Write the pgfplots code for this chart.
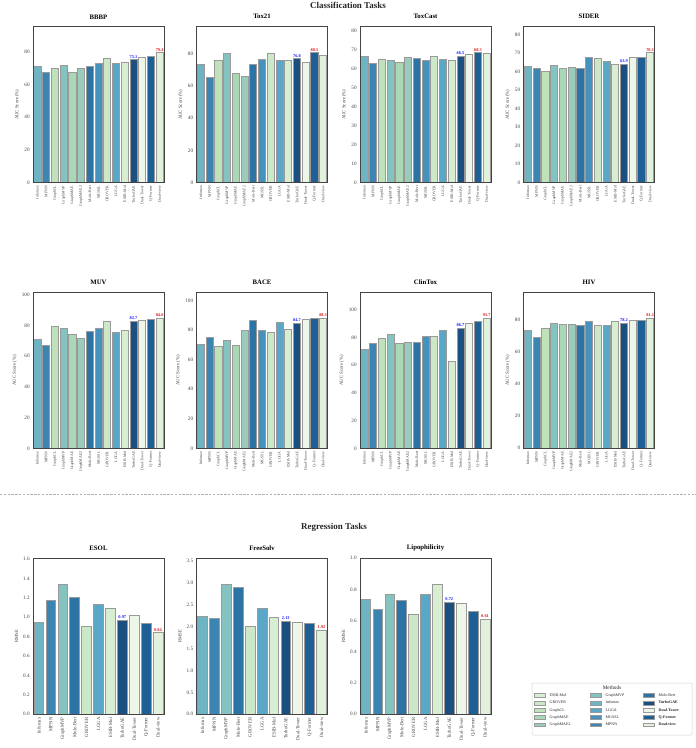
\documentclass[border=0pt]{standalone}
\usepackage{fontspec}
\setmainfont{Liberation Serif}
\usepackage{pgfplots}
\usepackage{pgfplotstable}
\pgfplotsset{compat=1.18}

% ---------- method colours ----------
\definecolor{cInfomax}{HTML}{6FB4C2}
\definecolor{cMPNN}{HTML}{3C84B2}
\definecolor{cGraphCL}{HTML}{BFE2BB}
\definecolor{cGraphMVP}{HTML}{84C3BF}
\definecolor{cGraphMAE}{HTML}{ACD7B4}
\definecolor{cGraphMAEtwo}{HTML}{9ACBBB}
\definecolor{cMoleBert}{HTML}{2C73A6}
\definecolor{cMGSSL}{HTML}{4592BF}
\definecolor{cGROVER}{HTML}{CDE8C8}
\definecolor{cLGGA}{HTML}{5BA7C8}
\definecolor{cESIBMol}{HTML}{D8EED3}
\definecolor{cTurboGAE}{HTML}{1B4F80}
\definecolor{cDualTower}{HTML}{EEF6EA}
\definecolor{cQFormer}{HTML}{1E6096}
\definecolor{cDualView}{HTML}{E1F1DC}
\definecolor{edgegray}{HTML}{9A9A9A}
\definecolor{spine}{HTML}{444444}
\definecolor{tickgray}{HTML}{444444}
\definecolor{labblue}{HTML}{1A1AFF}
\definecolor{labred}{HTML}{E01818}

% bar colours in the order of the classification categories
\colorlet{cls0}{cInfomax}\colorlet{cls1}{cMPNN}\colorlet{cls2}{cGraphCL}
\colorlet{cls3}{cGraphMVP}\colorlet{cls4}{cGraphMAE}\colorlet{cls5}{cGraphMAEtwo}
\colorlet{cls6}{cMoleBert}\colorlet{cls7}{cMGSSL}\colorlet{cls8}{cGROVER}
\colorlet{cls9}{cLGGA}\colorlet{cls10}{cESIBMol}\colorlet{cls11}{cTurboGAE}
\colorlet{cls12}{cDualTower}\colorlet{cls13}{cQFormer}\colorlet{cls14}{cDualView}
% bar colours in the order of the regression categories
\colorlet{reg0}{cInfomax}\colorlet{reg1}{cMPNN}\colorlet{reg2}{cGraphMVP}
\colorlet{reg3}{cMoleBert}\colorlet{reg4}{cGROVER}\colorlet{reg5}{cLGGA}
\colorlet{reg6}{cESIBMol}\colorlet{reg7}{cTurboGAE}\colorlet{reg8}{cDualTower}
\colorlet{reg9}{cQFormer}\colorlet{reg10}{cDualView}

% ---------- fonts ----------
\newcommand\supfont{\fontsize{9}{10}\selectfont\bfseries}
\newcommand\titlefont{\fontsize{6.8}{7.5}\selectfont\bfseries}
\newcommand\ticklabfont{\fontsize{5.2}{6}\selectfont}
\newcommand\clsxfont{\fontsize{3.9}{4.5}\selectfont}
\newcommand\regxfont{\fontsize{4.8}{5.5}\selectfont}
\newcommand\ylabfont{\fontsize{4.8}{5.5}\selectfont}
\newcommand\labfont{\fontsize{4.4}{5}\selectfont\bfseries}
\newcommand\legfont{\fontsize{4}{4.6}\selectfont}

% ---------- data (AUC in %, RMSE) ----------
\pgfplotstableread{
i v
0 71.2
1 67.7
2 69.6
3 71.6
4 67.3
5 69.6
6 70.8
7 72.8
8 75.7
9 72.8
10 73.4
11 75.1
12 76.3
13 77.1
14 79.4
}\BBBP
\pgfplotstableread{
i v
0 73.4
1 65.5
2 75.5
3 80.2
4 67.8
5 66.1
6 73.2
7 76.3
8 79.8
9 75.5
10 75.5
11 76.8
12 74.8
13 80.5
14 78.6
}\ToxTw
\pgfplotstableread{
i v
0 66.3
1 62.7
2 64.7
3 64.1
4 63.1
5 65.7
6 65.5
7 64.1
8 66.3
9 64.7
10 64.1
11 66.5
12 67.3
13 68.3
14 68.0
}\ToxCast
\pgfplotstableread{
i v
0 62.9
1 61.6
2 60.2
3 63.2
4 61.6
5 62.2
6 61.6
7 67.4
8 66.8
9 65.2
10 63.6
11 63.9
12 67.4
13 67.7
14 70.1
}\SIDER
\pgfplotstableread{
i v
0 71.2
1 66.7
2 79.1
3 77.8
4 74.3
5 71.5
6 76.3
7 78.2
8 82.4
9 75.2
10 76.5
11 82.7
12 83.4
13 83.6
14 84.6
}\MUV
\pgfplotstableread{
i v
0 70.4
1 75.2
2 69.0
3 73.3
4 69.5
5 80.2
6 86.6
7 79.7
8 78.6
9 85.6
10 80.6
11 84.7
12 87.2
13 87.8
14 88.1
}\BACE
\pgfplotstableread{
i v
0 71.5
1 75.4
2 79.0
3 82.1
4 75.4
5 76.3
6 76.3
7 80.7
8 80.7
9 84.8
10 62.6
11 86.7
12 90.1
13 91.3
14 93.7
}\ClinTox
\pgfplotstableread{
i v
0 73.3
1 69.1
2 75.0
3 78.1
4 77.1
5 77.1
6 76.7
7 79.4
8 76.5
9 76.7
10 79.0
11 78.2
12 80.0
13 79.6
14 81.1
}\HIV
\pgfplotstableread{
i v
0 0.95
1 1.17
2 1.34
3 1.21
4 0.91
5 1.13
6 1.09
7 0.97
8 1.02
9 0.94
10 0.84
}\ESOL
\pgfplotstableread{
i v
0 2.24
1 2.19
2 2.97
3 2.89
4 2.01
5 2.43
6 2.21
7 2.13
8 2.11
9 2.08
10 1.92
}\FreeSolv
\pgfplotstableread{
i v
0 0.74
1 0.67
2 0.77
3 0.73
4 0.64
5 0.77
6 0.83
7 0.72
8 0.71
9 0.66
10 0.61
}\Lipo

% ---------- styles ----------
\pgfplotsset{
  panel/.style={
    scale only axis, width=131bp, height=156bp, anchor=north west,
    ymin=0, axis on top,
    axis line style={draw=spine, line width=0.9bp},
    major tick length=0pt,
    tick label style={text=tickgray},
    /pgf/number format/assume math mode=true,
    yticklabel style={font=\ticklabfont, inner xsep=3.2bp},
    xticklabel style={rotate=90, anchor=east, inner xsep=3bp},
    title style={font=\titlefont, at={(0.5,1)}, anchor=south, yshift=0.5bp, inner sep=1bp},
    ylabel style={font=\ylabfont, text=tickgray, inner sep=1.6bp},
  },
  cls/.style={panel, xmin=-0.5, xmax=14.5, xtick={0,...,14},
    xticklabels={Infomax,MPNN,GraphCL,GraphMVP,GraphMAE,GraphMAE2,Mole-Bert,MGSSL,GROVER,LGGA,ESIB-Mol,TurboGAE,Dual-Tower,Q-Former,Dual-view},
    xticklabel style={font=\clsxfont},
    ylabel={AUC Score (\%)}},
  reg/.style={panel, xmin=-0.5, xmax=10.5, xtick={0,...,10},
    xticklabels={Infomax,MPNN,GraphMVP,Mole-Bert,GROVER,LGGA,ESIB-Mol,TurboGAE,Dual-Tower,Q-Former,Dual-view},
    xticklabel style={font=\regxfont},
    yticklabel style={/pgf/number format/.cd, fixed, fixed zerofill, precision=1},
    ylabel={RMSE}},
  methodbar/.style={ybar, bar width=0.82, bar shift=0pt, draw=edgegray, line width=0.7bp},
  methlegend/.style={hide axis, scale only axis, width=10bp, height=10bp,
    xmin=0, xmax=1, ymin=0, ymax=1, anchor=north west,
    legend style={at={(0,1)}, anchor=north west, draw=none, fill=none,
      inner sep=0pt, row sep=3bp, font=\legfont, text=black!85,
      nodes={inner sep=0pt, text height=3bp, text depth=1bp},
      /tikz/every odd column/.append style={column sep=4bp}},
    legend cell align=left,
    legend image code/.code={\draw[##1, line width=0.5bp] (0bp,-1.9bp) rectangle (11bp,1.9bp);},
  },
}

% one bar per category, coloured by method
\newcommand\drawbars[3]{% table, last index, colour prefix
  \pgfplotsinvokeforeach{0,...,#2}{%
    \addplot[methodbar, fill=#3##1] table[x=i, y=v, restrict x to domain=##1:##1] {#1};
  }%
}
% value printed above one bar
\newcommand\vlabel[4]{% table, index, colour, precision
  \addplot[ybar, bar width=0.82, bar shift=0pt, draw=none, fill=none,
    nodes near coords={\pgfmathprintnumber[fixed,fixed zerofill,precision=#4]{\pgfplotspointmeta}},
    every node near coord/.append style={text=#3, font=\labfont, inner sep=1.2bp}]
    table[x=i, y=v, restrict x to domain=#2:#2] {#1};
}

\begin{document}
\begin{tikzpicture}
\path[use as bounding box] (0,0) rectangle (696bp,-748bp);

\node[font=\supfont, text=black!85] at (348bp,-5bp) {Classification Tasks};
\node[font=\supfont, text=black!85] at (334bp,-527bp) {Regression Tasks};

% ----- classification, first row -----
\begin{axis}[cls, at={(33bp,-26.7bp)}, title={BBBP}, ymax=95.28, ytick={0,20,40,60,80}]
  \drawbars{\BBBP}{14}{cls}
  \vlabel{\BBBP}{11}{labblue}{1}
  \vlabel{\BBBP}{14}{labred}{1}
\end{axis}
\begin{axis}[cls, at={(196.5bp,-26.7bp)}, title={Tox21}, ymax=96.6, ytick={0,20,40,60,80}]
  \drawbars{\ToxTw}{14}{cls}
  \vlabel{\ToxTw}{11}{labblue}{1}
  \vlabel{\ToxTw}{13}{labred}{1}
\end{axis}
\begin{axis}[cls, at={(360bp,-26.7bp)}, title={ToxCast}, ymax=81.96, ytick={0,10,...,80}]
  \drawbars{\ToxCast}{14}{cls}
  \vlabel{\ToxCast}{11}{labblue}{1}
  \vlabel{\ToxCast}{13}{labred}{1}
\end{axis}
\begin{axis}[cls, at={(523.5bp,-26.7bp)}, title={SIDER}, ymax=84.12, ytick={0,10,...,80}]
  \drawbars{\SIDER}{14}{cls}
  \vlabel{\SIDER}{11}{labblue}{1}
  \vlabel{\SIDER}{14}{labred}{1}
\end{axis}

% ----- classification, second row -----
\begin{axis}[cls, at={(33bp,-292.3bp)}, title={MUV}, ymax=101.52, ytick={0,20,...,100}]
  \drawbars{\MUV}{14}{cls}
  \vlabel{\MUV}{11}{labblue}{1}
  \vlabel{\MUV}{14}{labred}{1}
\end{axis}
\begin{axis}[cls, at={(196.5bp,-292.3bp)}, title={BACE}, ymax=105.72, ytick={0,20,...,100}]
  \drawbars{\BACE}{14}{cls}
  \vlabel{\BACE}{11}{labblue}{1}
  \vlabel{\BACE}{14}{labred}{1}
\end{axis}
\begin{axis}[cls, at={(360bp,-292.3bp)}, title={ClinTox}, ymax=112.44, ytick={0,20,...,100}]
  \drawbars{\ClinTox}{14}{cls}
  \vlabel{\ClinTox}{11}{labblue}{1}
  \vlabel{\ClinTox}{14}{labred}{1}
\end{axis}
\begin{axis}[cls, at={(523.5bp,-292.3bp)}, title={HIV}, ymax=97.32, ytick={0,20,...,80}]
  \drawbars{\HIV}{14}{cls}
  \vlabel{\HIV}{11}{labblue}{1}
  \vlabel{\HIV}{14}{labred}{1}
\end{axis}

% separator between the two task groups
\draw[draw=gray!60, line width=0.8bp, dash pattern=on 2.4bp off 1.4bp] (0bp,-494bp) -- (696bp,-494bp);

% ----- regression -----
\begin{axis}[reg, at={(33bp,-558.3bp)}, title={ESOL}, ymax=1.608, ytick={0,0.2,0.4,0.6,0.8,1.0,1.2,1.4,1.6}]
  \drawbars{\ESOL}{10}{reg}
  \vlabel{\ESOL}{7}{labblue}{2}
  \vlabel{\ESOL}{10}{labred}{2}
\end{axis}
\begin{axis}[reg, at={(196.5bp,-558.3bp)}, title={FreeSolv}, ymax=3.564, ytick={0,0.5,1,1.5,2,2.5,3,3.5}]
  \drawbars{\FreeSolv}{10}{reg}
  \vlabel{\FreeSolv}{7}{labblue}{2}
  \vlabel{\FreeSolv}{10}{labred}{2}
\end{axis}
\begin{axis}[reg, at={(360bp,-558.3bp)}, title={Lipophilicity}, ymax=1.0, ytick={0,0.2,0.4,0.6,0.8,1.0}]
  \drawbars{\Lipo}{10}{reg}
  \vlabel{\Lipo}{7}{labblue}{2}
  \vlabel{\Lipo}{10}{labred}{2}
\end{axis}

% ----- legend -----
\draw[draw=gray!35, line width=0.5bp, fill=white, rounded corners=1bp] (532bp,-683bp) rectangle (692bp,-735bp);
\node[font=\fontsize{5.3}{6}\selectfont, text=black!85] at (612bp,-687.5bp) {Methods};
\begin{axis}[methlegend, at={(534bp,-693.2bp)}]
  \addlegendimage{fill=cESIBMol, draw=edgegray}\addlegendentry{ESIB-Mol}
  \addlegendimage{fill=cGROVER, draw=edgegray}\addlegendentry{GROVER}
  \addlegendimage{fill=cGraphCL, draw=edgegray}\addlegendentry{GraphCL}
  \addlegendimage{fill=cGraphMAE, draw=edgegray}\addlegendentry{GraphMAE}
  \addlegendimage{fill=cGraphMAEtwo, draw=edgegray}\addlegendentry{GraphMAE2}
\end{axis}
\begin{axis}[methlegend, at={(590bp,-693.2bp)}]
  \addlegendimage{fill=cGraphMVP, draw=edgegray}\addlegendentry{GraphMVP}
  \addlegendimage{fill=cInfomax, draw=edgegray}\addlegendentry{Infomax}
  \addlegendimage{fill=cLGGA, draw=edgegray}\addlegendentry{LGGA}
  \addlegendimage{fill=cMGSSL, draw=edgegray}\addlegendentry{MGSSL}
  \addlegendimage{fill=cMPNN, draw=edgegray}\addlegendentry{MPNN}
\end{axis}
\begin{axis}[methlegend, at={(643bp,-693.2bp)}]
  \addlegendimage{fill=cMoleBert, draw=edgegray}\addlegendentry{Mole-Bert}
  \addlegendimage{fill=cTurboGAE, draw=edgegray}\addlegendentry{\textbf{TurboGAE}}
  \addlegendimage{fill=cDualTower, draw=edgegray}\addlegendentry{\textbf{Dual-Tower}}
  \addlegendimage{fill=cQFormer, draw=edgegray}\addlegendentry{\textbf{Q-Former}}
  \addlegendimage{fill=cDualView, draw=edgegray}\addlegendentry{\textbf{Dual-view}}
\end{axis}
\end{tikzpicture}
\end{document}
